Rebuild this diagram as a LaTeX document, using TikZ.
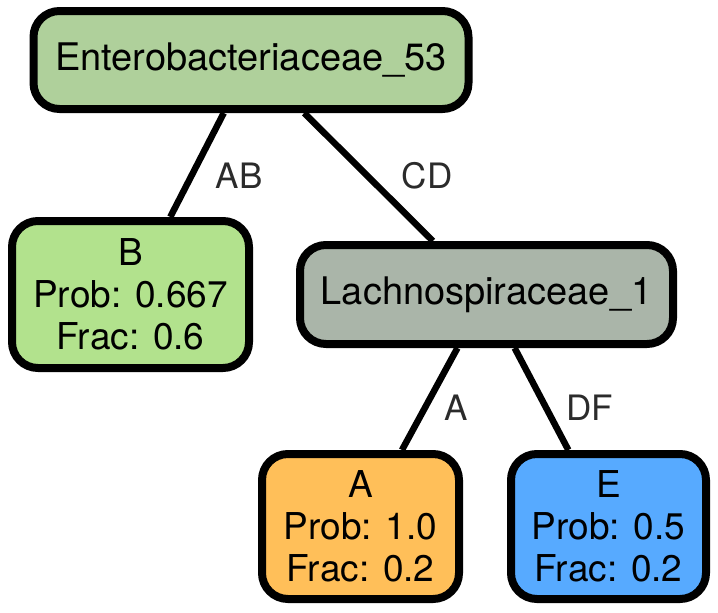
\documentclass[tikz,border=0pt]{standalone}
\usepackage{fontspec}
\setmainfont{TeX Gyre Heros}
\usetikzlibrary{backgrounds}
\definecolor{rootc}{HTML}{AFD09B}
\definecolor{bc}{HTML}{B2E28D}
\definecolor{lc}{HTML}{AAB5A9}
\definecolor{ac}{HTML}{FFBF59}
\definecolor{ec}{HTML}{57AAFF}
\definecolor{lab}{HTML}{2B2B2B}
\begin{document}
\begin{tikzpicture}[x=1pt,y=-1pt,
  box/.style={draw=black, line width=8pt, rounded corners=26pt, inner sep=0pt,
    align=center, font=\fontsize{37}{42}\selectfont},
  edge/.style={draw=black, line width=6.5pt},
  elab/.style={text=lab, font=\fontsize{35}{42}\selectfont, inner sep=0pt}]
\useasboundingbox (0,0) rectangle (718,613);
\node[box, fill=rootc, minimum width=435pt, minimum height=98pt, font=\fontsize{38}{42}\selectfont] (root) at (251,60) {Enterobacteriaceae\_53};
\node[box, fill=bc, minimum width=237pt, minimum height=147pt] (b) at (130.5,294.5) {B\\Prob: 0.667\\Frac: 0.6};
\node[box, fill=lc, minimum width=373pt, minimum height=99pt, font=\fontsize{38}{42}\selectfont] (l) at (486.5,294.5) {Lachnospiraceae\_1};
\node[box, fill=ac, minimum width=197pt, minimum height=145pt] (a) at (360.5,526.5) {A\\Prob: 1.0\\Frac: 0.2};
\node[box, fill=ec, minimum width=195pt, minimum height=145pt] (e) at (608.5,526.5) {E\\Prob: 0.5\\Frac: 0.2};
\begin{scope}[on background layer]
\draw[edge] (root) -- (b);
\draw[edge] (root) -- (l);
\draw[edge] (l) -- (a);
\draw[edge] (l) -- (e);
\end{scope}
\node[elab] (lab1) at (239,176) {AB};
\node[elab] (lab2) at (427,176) {CD};
\node[elab] (lab3) at (456,408) {A};
\node[elab] (lab4) at (590,408) {DF};
\end{tikzpicture}
\end{document}
